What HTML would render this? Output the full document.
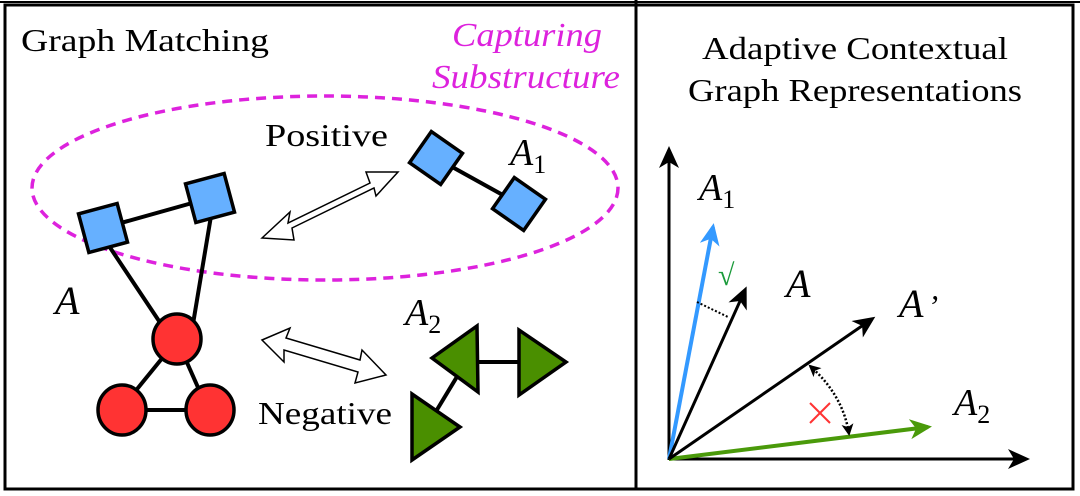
<!DOCTYPE html>
<html><head><meta charset="utf-8"><style>
html,body{margin:0;padding:0;background:#fff;width:1080px;height:496px;overflow:hidden}
svg{display:block;font-family:"Liberation Serif","DejaVu Serif","Times New Roman",serif}
svg text{font-family:"Liberation Serif","DejaVu Serif","Times New Roman",serif}
</style></head><body>
<svg width="1080" height="496" viewBox="0 0 1080 496" xmlns="http://www.w3.org/2000/svg">
<defs>
<marker id="abig" markerWidth="22" markerHeight="20" refX="18" refY="10" orient="auto" markerUnits="userSpaceOnUse"><path d="M0,0 L22,10 L0,20 L6,10 Z" fill="#000"/></marker>
<marker id="blue" markerWidth="22" markerHeight="20" refX="18" refY="10" orient="auto" markerUnits="userSpaceOnUse"><path d="M0,0 L22,10 L0,20 L6,10 Z" fill="#3399ff"/></marker>
<marker id="green" markerWidth="22" markerHeight="20" refX="18" refY="10" orient="auto" markerUnits="userSpaceOnUse"><path d="M0,0 L22,10 L0,20 L6,10 Z" fill="#4a9a0a"/></marker>
<marker id="small" markerWidth="12" markerHeight="12" refX="10" refY="6" orient="auto-start-reverse" markerUnits="userSpaceOnUse"><path d="M0,0 L12,6 L0,12 L3,6 Z" fill="#000"/></marker>
</defs>
<rect x="5" y="5" width="1068" height="484" fill="none" stroke="#000" stroke-width="3"/>
<line x1="0" y1="2" x2="1080" y2="2" stroke="#000" stroke-width="2"/>
<line x1="636" y1="0" x2="636" y2="489" stroke="#000" stroke-width="3"/>

<text x="21" y="51" font-size="32" textLength="248" lengthAdjust="spacingAndGlyphs">Graph Matching</text>
<text x="452" y="46" font-size="34" font-style="italic" fill="#dd22dd" textLength="150" lengthAdjust="spacingAndGlyphs">Capturing</text>
<text x="432" y="88" font-size="34" font-style="italic" fill="#dd22dd" textLength="188" lengthAdjust="spacingAndGlyphs">Substructure</text>
<ellipse cx="325" cy="188" rx="293" ry="92" fill="none" stroke="#dd22dd" stroke-width="3.5" stroke-dasharray="10,7"/>
<text x="265" y="146" font-size="32" textLength="123" lengthAdjust="spacingAndGlyphs">Positive</text>
<text x="258" y="424" font-size="32" textLength="134" lengthAdjust="spacingAndGlyphs">Negative</text>
<text x="55" y="314" font-size="40" font-style="italic">A</text>
<text x="510" y="165" font-size="38" font-style="italic">A<tspan font-size="26" font-style="normal" dy="8">1</tspan></text>
<text x="405" y="325" font-size="38" font-style="italic">A<tspan font-size="26" font-style="normal" dy="8">2</tspan></text>

<g stroke="#000" stroke-width="4">
<line x1="103" y1="228" x2="210" y2="198"/>
<line x1="105" y1="240" x2="165" y2="330"/>
<line x1="212" y1="210" x2="192" y2="330"/>
<line x1="177" y1="340" x2="120" y2="410"/>
<line x1="177" y1="340" x2="208" y2="410"/>
<line x1="120" y1="410" x2="208" y2="410"/>
<line x1="436" y1="158" x2="519" y2="204"/>
<line x1="470" y1="362" x2="525" y2="362"/>
<line x1="458" y1="375" x2="432" y2="418"/>
</g>
<g fill="#66b0ff" stroke="#000" stroke-width="3.5">
<rect x="83" y="208" width="40" height="40" transform="rotate(-15 103 228)"/>
<rect x="190" y="178" width="40" height="40" transform="rotate(-15 210 198)"/>
<rect x="417" y="139" width="38" height="38" transform="rotate(35 436 158)"/>
<rect x="500" y="185" width="38" height="38" transform="rotate(35 519 204)"/>
</g>
<g fill="#ff3333" stroke="#000" stroke-width="3.5">
<ellipse cx="177" cy="339" rx="24" ry="25"/>
<ellipse cx="122" cy="410" rx="24" ry="25"/>
<ellipse cx="210" cy="410" rx="24" ry="25"/>
</g>
<g fill="#4a8f00" stroke="#000" stroke-width="3.5">
<polygon points="432,358 477,326 478,392"/>
<polygon points="519,330 519,395 566,362"/>
<polygon points="412,394 412,460 460,427"/>
</g>
<g fill="#fff" stroke="#000" stroke-width="1.5">
<path d="M262,238 L290,212 L288,223 L370,183 L366,172 L398,172 L376,196 L374,188 L292,228 L294,240 Z"/>
<path d="M262,340 L290,328 L286,338 L360,360 L362,350 L386,375 L355,383 L358,372 L284,350 L284,362 Z"/>
</g>

<text x="855" y="59" font-size="32" text-anchor="middle" textLength="306" lengthAdjust="spacingAndGlyphs">Adaptive Contextual</text>
<text x="855" y="101" font-size="32" text-anchor="middle" textLength="334" lengthAdjust="spacingAndGlyphs">Graph Representations</text>
<g stroke-width="3" fill="none">
<line x1="669" y1="460" x2="669" y2="150" stroke="#000" marker-end="url(#abig)"/>
<line x1="669" y1="459" x2="1026" y2="459" stroke="#000" marker-end="url(#abig)"/>
<line x1="669" y1="459" x2="713" y2="227" stroke="#3399ff" stroke-width="4" marker-end="url(#blue)"/>
<line x1="669" y1="459" x2="928" y2="427" stroke="#4a9a0a" stroke-width="4" marker-end="url(#green)"/>
<line x1="669" y1="459" x2="745" y2="290" stroke="#000" marker-end="url(#abig)"/>
<line x1="669" y1="459" x2="872" y2="319" stroke="#000" marker-end="url(#abig)"/>
<line x1="697" y1="302" x2="728" y2="317" stroke="#000" stroke-width="2" stroke-dasharray="2,2"/>
<path d="M810,366 Q843,395 849,434" stroke="#000" stroke-width="2.5" stroke-dasharray="2,2" marker-end="url(#small)" marker-start="url(#small)"/>
</g>
<text x="699" y="200" font-size="38" font-style="italic">A<tspan font-size="26" font-style="normal" dy="8">1</tspan></text>
<text x="718" y="285" font-size="30" fill="#1a9a3a">√</text>
<text x="786" y="297" font-size="40" font-style="italic">A</text>
<text x="899" y="317" font-size="40" font-style="italic">A<tspan font-size="32" dx="4">’</tspan></text>
<text x="954" y="415" font-size="38" font-style="italic">A<tspan font-size="26" font-style="normal" dy="8">2</tspan></text>
<g stroke="#ff3333" stroke-width="2"><line x1="810" y1="403" x2="830" y2="423"/><line x1="830" y1="403" x2="810" y2="423"/></g>
</svg>
</body></html>
